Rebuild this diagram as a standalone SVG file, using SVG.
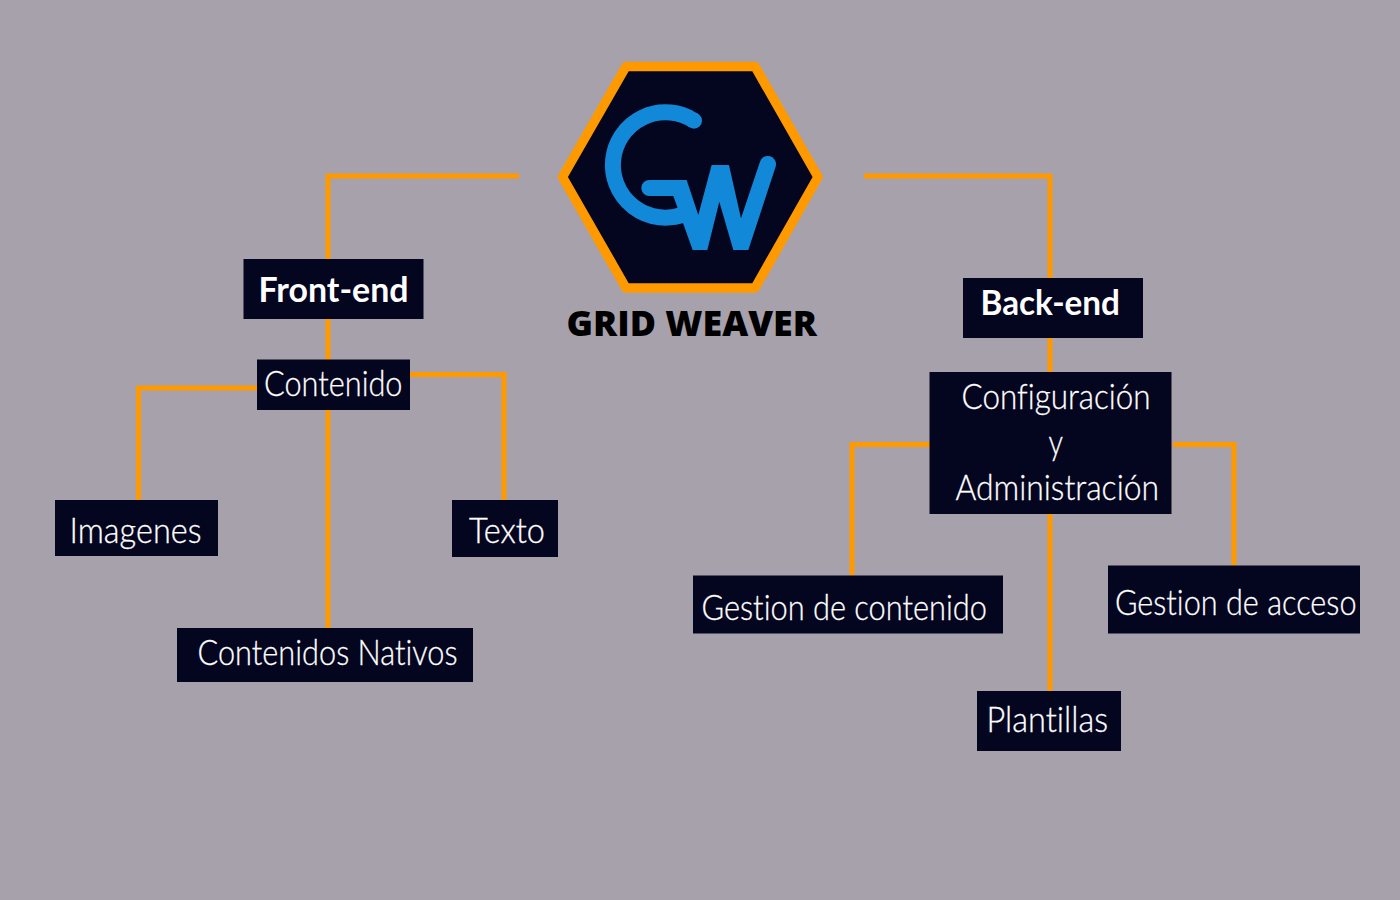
<svg xmlns="http://www.w3.org/2000/svg" width="1400" height="900" viewBox="0 0 1400 900">
<style>
.box{fill:#04051f}
.t{font-family:"Lato","Open Sans","Liberation Sans",sans-serif;font-weight:300;font-size:35px;fill:#fff;stroke:#fff;stroke-width:.3px;font-variant-ligatures:none}
.b{font-family:"Lato","Open Sans","Liberation Sans",sans-serif;font-weight:700;font-size:35px;fill:#fff;font-variant-ligatures:none}
.c{fill:none;stroke:#ff9900;stroke-width:5}
</style>
<rect width="1400" height="900" fill="#a7a1ac"/>
<g id="connectors" class="c">
<path d="M519 176H328V260M328 319V360M328 410V628"/>
<path d="M257 388H138.500V500"/>
<path d="M410 374.500H504V500"/>
<path d="M864 176H1050V278M1050 338V372M1050 514V691"/>
<path d="M930 444.500H852V575"/>
<path d="M1173 444.500H1234V565"/>
</g>
<g id="logo">
<polygon points="626,66.500 755,66.500 818,177 755,288 626,288 562.500,177" fill="#04051f" stroke="#ff9900" stroke-width="9.500" stroke-linejoin="round"/>
<g transform="translate(540 50) scale(0.3333)">
<path d="M462 212A158 158 0 1 0 432 493" fill="none" stroke="#1289d8" stroke-width="48"/>
<circle cx="462" cy="212" r="24" fill="#1289d8"/>
<path d="M328 390H440L475 495L515 345H567L603 505L660 335A24 24 0 0 1 707 350L625 600H580L538 455L502 600H458L400 438H328A24 24 0 0 1 328 390Z" fill="#1289d8"/>
</g>
<text x="566.500" y="336" textLength="250.500" lengthAdjust="spacingAndGlyphs" font-family="'Open Sans','Noto Sans',sans-serif" font-weight="800" font-size="35" fill="#000">GRID WEAVER</text>
</g>
<g id="front-end"><rect class="box" x="243.500" y="259" width="180" height="60"/><text class="b" x="258.500" y="302" textLength="150" lengthAdjust="spacingAndGlyphs">Front-end</text></g>
<g id="contenido"><rect class="box" x="257" y="359.500" width="153" height="50.500"/><text class="t" x="264" y="396" textLength="138.500" lengthAdjust="spacingAndGlyphs">Contenido</text></g>
<g id="imagenes"><rect class="box" x="55" y="500" width="163" height="56"/><text class="t" x="69.500" y="543" textLength="132" lengthAdjust="spacingAndGlyphs">Imagenes</text></g>
<g id="texto"><rect class="box" x="452" y="500" width="106" height="57"/><text class="t" x="469" y="543" textLength="76" lengthAdjust="spacingAndGlyphs">Texto</text></g>
<g id="contenidos-nativos"><rect class="box" x="177" y="628" width="296" height="54"/><text class="t" x="197.500" y="665" textLength="260" lengthAdjust="spacingAndGlyphs">Contenidos Nativos</text></g>
<g id="back-end"><rect class="box" x="963" y="278" width="180" height="60"/><text class="b" x="980.500" y="315" textLength="139.500" lengthAdjust="spacingAndGlyphs">Back-end</text></g>
<g id="configuracion"><rect class="box" x="929.500" y="372" width="242" height="142"/>
<text class="t" x="961.500" y="409" textLength="189" lengthAdjust="spacingAndGlyphs">Configuración</text>
<text class="t" x="1048.500" y="455" textLength="14.500" lengthAdjust="spacingAndGlyphs">y</text>
<text class="t" x="955.500" y="500" textLength="203.500" lengthAdjust="spacingAndGlyphs">Administración</text></g>
<g id="gestion-contenido"><rect class="box" x="693" y="575.500" width="310" height="58"/><text class="t" x="701.500" y="620" textLength="285.500" lengthAdjust="spacingAndGlyphs">Gestion de contenido</text></g>
<g id="gestion-acceso"><rect class="box" x="1108" y="565.500" width="252" height="68"/><text class="t" x="1115" y="615" textLength="241.500" lengthAdjust="spacingAndGlyphs">Gestion de acceso</text></g>
<g id="plantillas"><rect class="box" x="977" y="691" width="144" height="60"/><text class="t" x="986.500" y="732" textLength="121.500" lengthAdjust="spacingAndGlyphs">Plantillas</text></g>
</svg>
